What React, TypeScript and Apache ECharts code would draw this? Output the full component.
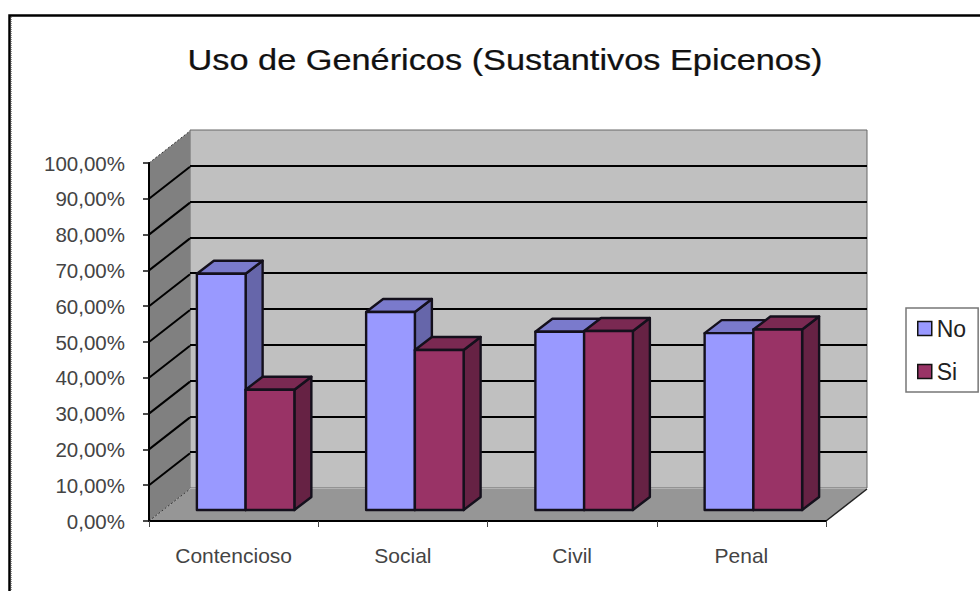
import React, { useEffect, useRef } from "react";
import * as echarts from "echarts";

const titleText = "Uso de Genéricos (Sustantivos Epicenos)";
const categories = ["Contencioso", "Social", "Civil", "Penal"];
const noValues = [66, 55.3, 49.8, 49.4];
const siValues = [33.6, 44.7, 50, 50.4];
const yTicks = [0, 10, 20, 30, 40, 50, 60, 70, 80, 90, 100];

const FONT = "'Liberation Sans', Arial, sans-serif";
// projected depth of the chart box and of the bars within it
const DEPTH_X = 41;
const DEPTH_Y = -32;
const BAR_DX = 12;
const BAR_DY = -11;
const BAR_DEPTH_X = 17;
const BAR_DEPTH_Y = -13;
const BAR_STROKE = "#14101c";

const poly = (points: number[][], fill: string) => ({
  type: "polygon",
  shape: { points },
  style: { fill, stroke: BAR_STROKE, lineWidth: 2.4, lineJoin: "round" },
});

const barRenderer = (slot: number, front: string, side: string, top: string) => (_: any, api: any) => {
  const cat = api.value(0);
  const band = api.size([1, 0])[0];
  const w = band * 0.288;
  const t = api.coord([cat, api.value(1)]);
  const b = api.coord([cat, 0]);
  const x0 = t[0] + BAR_DX + (slot - 1) * w;
  const x1 = x0 + w;
  const yt = t[1] + BAR_DY;
  const yb = b[1] + BAR_DY;
  const dx = BAR_DEPTH_X;
  const dy = BAR_DEPTH_Y;
  return {
    type: "group",
    children: [
      poly([[x1, yt], [x1 + dx, yt + dy], [x1 + dx, yb + dy], [x1, yb]], side),
      poly([[x0, yt], [x0 + dx, yt + dy], [x1 + dx, yt + dy], [x1, yt]], top),
      poly([[x0, yt], [x1, yt], [x1, yb], [x0, yb]], front),
    ],
  };
};

const wallRenderer = (_: any, api: any) => {
  const v = api.value(1);
  const band = api.size([1, 0])[0];
  const left = api.coord([0, 0])[0] - band / 2;
  const right = api.coord([categories.length - 1, 0])[0] + band / 2;
  const y = api.coord([0, v])[1];
  const y0 = api.coord([0, 0])[1];
  const y100 = api.coord([0, 100])[1];
  const children: any[] = [];
  if (v === 0) {
    children.push({
      type: "polygon",
      shape: { points: [[left, y100], [left + DEPTH_X, y100 + DEPTH_Y], [left + DEPTH_X, y0 + DEPTH_Y], [left, y0]] },
      style: { fill: "#808080" },
    });
    children.push({
      type: "polygon",
      shape: { points: [[left, y0], [left + DEPTH_X, y0 + DEPTH_Y], [right + DEPTH_X, y0 + DEPTH_Y], [right, y0]] },
      style: { fill: "#969696" },
    });
    children.push({
      type: "line",
      shape: { x1: right, y1: y0, x2: right + DEPTH_X, y2: y0 + DEPTH_Y },
      style: { stroke: "#222", lineWidth: 1.5 },
    });
  }
  const edge = v === 0 || v === 100;
  children.push({
    type: "line",
    shape: { x1: left, y1: y, x2: left + DEPTH_X, y2: y + DEPTH_Y },
    style: edge
      ? { stroke: "#333", lineWidth: 1, lineDash: [2, 2] }
      : { stroke: "#000", lineWidth: 2 },
  });
  return { type: "group", children };
};

export default function App() {
  const ref = useRef<HTMLDivElement>(null);
  useEffect(() => {
    document.body.style.margin = "0";
    const chart = echarts.init(ref.current!, undefined, { renderer: "svg" });
    chart.setOption({
      animation: false,
      backgroundColor: "#fff",
      legend: {
        data: ["No", "Si"],
        orient: "vertical",
        left: 906,
        top: 308,
        padding: [9, 12, 9, 11],
        itemWidth: 14,
        itemHeight: 14,
        itemGap: 20,
        icon: "rect",
        backgroundColor: "#fff",
        borderColor: "#777",
        borderWidth: 1.5,
        selectedMode: false,
        itemStyle: { borderColor: "#111", borderWidth: 1.5 },
        textStyle: { fontFamily: FONT, fontSize: 23, color: "#222" },
      },
      grid: [
        { left: 149, top: 163, width: 677, height: 358, containLabel: false },
        {
          show: true,
          left: 190,
          top: 130,
          width: 677,
          height: 358,
          backgroundColor: "#C0C0C0",
          borderColor: "#666",
          borderWidth: 1,
        },
      ],
      xAxis: [
        {
          type: "category",
          gridIndex: 0,
          data: categories,
          z: 6,
          axisLine: { show: true, lineStyle: { color: "#000", width: 2 } },
          axisTick: { show: true, length: 6, lineStyle: { color: "#444", width: 1 } },
          axisLabel: { margin: 24, fontFamily: FONT, fontSize: 21, color: "#444" },
          splitLine: { show: false },
        },
        {
          type: "category",
          gridIndex: 1,
          data: categories,
          axisLine: { show: false },
          axisTick: { show: false },
          axisLabel: { show: false },
          splitLine: { show: false },
        },
      ],
      yAxis: [
        {
          type: "value",
          gridIndex: 0,
          min: 0,
          max: 100,
          interval: 10,
          z: 6,
          axisLine: { show: true, lineStyle: { color: "#000", width: 2 } },
          axisTick: { show: true, length: 6, lineStyle: { color: "#111", width: 1.5 } },
          axisLabel: {
            margin: 24,
            fontFamily: FONT,
            fontSize: 20.5,
            color: "#444",
            formatter: (v: number) => v.toFixed(2).replace(".", ",") + "%",
          },
          splitLine: { show: false },
        },
        {
          type: "value",
          gridIndex: 1,
          min: 0,
          max: 100,
          interval: 10,
          axisLine: { show: false },
          axisTick: { show: false },
          axisLabel: { show: false },
          splitLine: { show: true, showMinLine: false, showMaxLine: false, lineStyle: { color: "#000", width: 2.2 } },
        },
      ],
      series: [
        {
          type: "custom",
          name: "walls",
          silent: true,
          z: 1,
          xAxisIndex: 0,
          yAxisIndex: 0,
          renderItem: wallRenderer,
          data: yTicks.map((v) => [0, v]),
        },
        {
          type: "custom",
          name: "No",
          z: 3,
          xAxisIndex: 0,
          yAxisIndex: 0,
          itemStyle: { color: "#9999FF" },
          renderItem: barRenderer(0, "#9999FF", "#6666AA", "#7A7ACC"),
          data: noValues.map((v, i) => [i, v]),
        },
        {
          type: "custom",
          name: "Si",
          z: 4,
          xAxisIndex: 0,
          yAxisIndex: 0,
          itemStyle: { color: "#993366" },
          renderItem: barRenderer(1, "#993366", "#662244", "#7A2952"),
          data: siValues.map((v, i) => [i, v]),
        },
      ],
      graphic: [
        {
          type: "text",
          x: 505,
          y: 60,
          scaleX: 1.144,
          style: {
            text: titleText,
            fontFamily: FONT,
            fontSize: 30,
            fill: "#111",
            stroke: "#111",
            lineWidth: 0.25,
            textAlign: "center",
            textVerticalAlign: "middle",
          },
        },
        {
          type: "polyline",
          shape: { points: [[9.5, 591], [9.5, 15.5], [980, 15.5]] },
          style: { fill: "none", stroke: "#000", lineWidth: 2.5 },
        },
        {
          type: "line",
          shape: { x1: 11.5, y1: 17, x2: 11.5, y2: 591 },
          style: { stroke: "#999", lineWidth: 1, lineDash: [1, 1] },
        },
      ],
    });
    return () => chart.dispose();
  }, []);
  return <div ref={ref} style={{ position: "absolute", left: 0, top: 0, width: 980, height: 591 }} />;
}
